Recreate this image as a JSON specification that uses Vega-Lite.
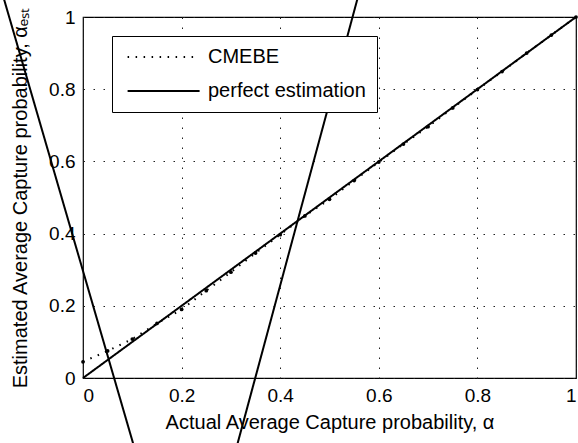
{
  "$schema": "https://vega.github.io/schema/vega-lite/v6.json",
  "width": 493,
  "height": 361,
  "autosize": {"type": "none"},
  "padding": {"left": 83, "top": 17, "right": 2, "bottom": 65},
  "background": "white",
  "config": {
    "font": "Liberation Sans",
    "view": {"stroke": "black", "strokeWidth": 1.2},
    "axis": {
      "domain": false,
      "ticks": false,
      "grid": true,
      "gridColor": "#222",
      "gridDash": [1.5, 8.5],
      "gridWidth": 1,
      "labelFont": "Liberation Sans",
      "labelFontSize": 19,
      "labelColor": "black",
      "titleFont": "Liberation Sans",
      "titleFontSize": 20,
      "titleFontWeight": "normal",
      "titleColor": "black"
    }
  },
  "layer": [
    {
      "data": {
        "values": [
          {"a": 0, "e": 0.045, "series": "CMEBE"},
          {"a": 0.05, "e": 0.075, "series": "CMEBE"},
          {"a": 0.1, "e": 0.108, "series": "CMEBE"},
          {"a": 0.15, "e": 0.151, "series": "CMEBE"},
          {"a": 0.2, "e": 0.19, "series": "CMEBE"},
          {"a": 0.25, "e": 0.242, "series": "CMEBE"},
          {"a": 0.3, "e": 0.293, "series": "CMEBE"},
          {"a": 0.35, "e": 0.346, "series": "CMEBE"},
          {"a": 0.4, "e": 0.397, "series": "CMEBE"},
          {"a": 0.45, "e": 0.449, "series": "CMEBE"},
          {"a": 0.5, "e": 0.495, "series": "CMEBE"},
          {"a": 0.55, "e": 0.547, "series": "CMEBE"},
          {"a": 0.6, "e": 0.598, "series": "CMEBE"},
          {"a": 0.65, "e": 0.648, "series": "CMEBE"},
          {"a": 0.7, "e": 0.696, "series": "CMEBE"},
          {"a": 0.75, "e": 0.748, "series": "CMEBE"},
          {"a": 0.8, "e": 0.799, "series": "CMEBE"},
          {"a": 0.85, "e": 0.849, "series": "CMEBE"},
          {"a": 0.9, "e": 0.9, "series": "CMEBE"},
          {"a": 0.95, "e": 0.95, "series": "CMEBE"},
          {"a": 1, "e": 1, "series": "CMEBE"},
          {"a": 0, "e": 0, "series": "perfect estimation"},
          {"a": 1, "e": 1, "series": "perfect estimation"}
        ]
      },
      "layer": [
        {
          "mark": {"type": "line", "color": "black", "strokeWidth": 2},
          "encoding": {
            "x": {"field": "a", "type": "quantitative", "scale": {"domain": [0, 1], "nice": false},
              "axis": {"values": [0, 0.2, 0.4, 0.6, 0.8, 1], "format": "~g", "labelPadding": 8, "title": "Actual Average Capture probability, α", "titlePadding": 7}},
            "y": {"field": "e", "type": "quantitative", "scale": {"domain": [0, 1], "nice": false},
              "axis": {"values": [0, 0.2, 0.4, 0.6, 0.8, 1], "format": "~g", "labelPadding": 8, "title": "Estimated Average Capture probability, αₑₛₜ", "titlePadding": 18}},
            "strokeDash": {"field": "series", "type": "nominal",
              "scale": {"domain": ["CMEBE", "perfect estimation"], "range": [[1.5, 6.5], [1, 0]]},
              "legend": {
                "title": null, "orient": "none", "legendX": 29, "legendY": 19,
                "fillColor": "white", "strokeColor": "black", "padding": 11,
                "symbolType": "M-0.6,0L7.4,0", "symbolSize": 324, "symbolStrokeColor": "black", "symbolStrokeWidth": 2,
                "symbolFillColor": "transparent",
                "labelFontSize": 20, "labelColor": "black", "labelOffset": 65, "rowPadding": 14
              }}
          }
        },
        {
          "transform": [{"filter": "datum.series === 'CMEBE'"}],
          "mark": {"type": "circle", "color": "black", "size": 14, "opacity": 1},
          "encoding": {
            "x": {"field": "a", "type": "quantitative"},
            "y": {"field": "e", "type": "quantitative"}
          }
        }
      ]
    },
    {
      "data": {
        "values": [
          {"x1": -0.171, "y1": 1.1, "x2": 0.1163, "y2": -0.25},
          {"x1": 0.5665, "y1": 1.1, "x2": 0.300, "y2": -0.25}
        ]
      },
      "mark": {"type": "rule", "color": "black", "strokeWidth": 2},
      "encoding": {
        "x": {"field": "x1", "type": "quantitative"},
        "y": {"field": "y1", "type": "quantitative"},
        "x2": {"field": "x2"},
        "y2": {"field": "y2"}
      }
    }
  ]
}
